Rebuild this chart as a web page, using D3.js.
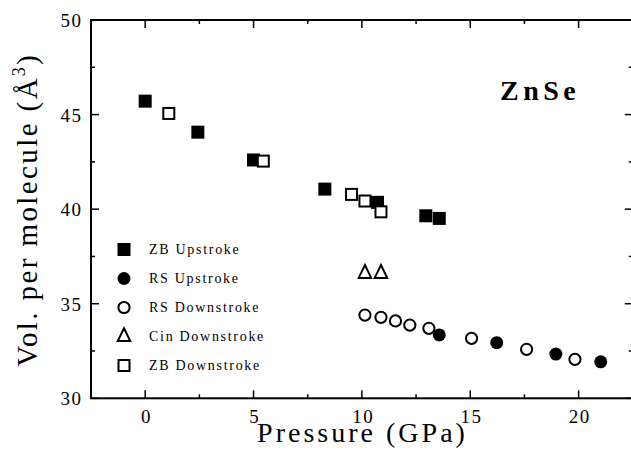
<!DOCTYPE html>
<html>
<head>
<meta charset="utf-8">
<script src="https://cdn.jsdelivr.net/npm/d3@7"></script>
<style>
  body { margin: 0; background: #fff; }
  svg { display: block; }
</style>
</head>
<body>
<svg id="chart" width="631" height="457"></svg>
<script>
// ---- Data ----
const zbUpP   = [0.0, 2.43, 5.0, 8.29, 10.72, 12.95, 13.57];
const zbUpV   = [45.71, 44.07, 42.6, 41.06, 40.36, 39.65, 39.51];
const zbDownP = [1.09, 5.45, 9.52, 10.14, 10.88];
const zbDownV = [45.06, 42.54, 40.78, 40.43, 39.86];
const cinDownP = [10.14, 10.88];
const cinDownV = [36.61, 36.61];
const rsDownP = [10.14, 10.88, 11.55, 12.21, 13.09, 15.06, 17.6, 19.83];
const rsDownV = [34.40, 34.28, 34.09, 33.87, 33.70, 33.17, 32.59, 32.06];
const rsUpP   = [13.57, 16.22, 18.95, 21.02];
const rsUpV   = [33.35, 32.94, 32.34, 31.93];
const xTicks = [0, 5, 10, 15, 20];
const yTicks = [30, 35, 40, 45, 50];
const legendLabels = ["ZB Upstroke", "RS Upstroke", "RS Downstroke", "Cin Downstroke", "ZB Downstroke"];
const legendKinds  = ["sqFill", "circFill", "circOpen", "triOpen", "sqOpen"];

const FONT = '"Liberation Serif"';

// per-glyph spacing via dx lists (instead of CSS letter-spacing)
function dxList(str, ls) {
  return Array.from(str).map((c, i) => (i === 0 ? 0 : ls)).join(" ");
}

const svg = d3.select("#chart");
const x = d3.scaleLinear().domain([-2.5, 22.5]).range([91, 632.8]);
const y = d3.scaleLinear().domain([30, 50]).range([398.3, 20]);
const L = x.range()[0], R = x.range()[1], T = y.range()[1], B = y.range()[0];

// Frame
svg.append("rect").attr("x", L).attr("y", T).attr("width", R - L).attr("height", B - T)
  .attr("fill", "none").attr("stroke", "#000").attr("stroke-width", 2);

// Ticks (inward, four sides)
const xMinor = d3.range(-2.5, 22.51, 2.5);
const yMinor = d3.range(30, 50.01, 2.5);
const tk = svg.append("g").attr("stroke", "#000").attr("stroke-width", 1.5);
xMinor.forEach(v => {
  const major = Math.abs(v % 5) < 1e-9;
  const len = major ? 8 : 4;
  tk.append("line").attr("x1", x(v)).attr("x2", x(v)).attr("y1", B).attr("y2", B - len);
  tk.append("line").attr("x1", x(v)).attr("x2", x(v)).attr("y1", T).attr("y2", T + len);
});
yMinor.forEach(v => {
  const major = Math.abs(v % 5) < 1e-9;
  const len = major ? 8 : 4;
  tk.append("line").attr("y1", y(v)).attr("y2", y(v)).attr("x1", L).attr("x2", L + len);
  tk.append("line").attr("y1", y(v)).attr("y2", y(v)).attr("x1", R).attr("x2", R - len);
});

// Tick labels via axis generators (lines hidden)
const fmt = d3.format("d");
const xAxis = svg.append("g").attr("transform", `translate(0,${B})`)
  .call(d3.axisBottom(x).tickValues(xTicks).tickSize(0).tickPadding(24).tickFormat(fmt));
const yAxis = svg.append("g").attr("transform", `translate(${L},0)`)
  .call(d3.axisLeft(y).tickValues(yTicks).tickSize(0).tickPadding(10).tickFormat(fmt));
[xAxis, yAxis].forEach(g => {
  g.attr("font-family", null).attr("font-size", null);
  g.select(".domain").remove();
  g.selectAll("text").style("font-family", FONT).style("font-size", "19px")
    .attr("fill", "#000").attr("dx", d => dxList(fmt(d), 1.5));
});
xAxis.selectAll("text").attr("dy", null).attr("y", 24.5);
yAxis.selectAll("text").attr("dy", null).attr("y", d => 6.5);

// Axis titles
const xtStr = "Pressure (GPa)";
svg.append("text").attr("x", 361).attr("y", 442).attr("text-anchor", "middle")
  .style("font-family", FONT).style("font-size", "28px").attr("dx", dxList(xtStr, 3)).text(xtStr);

const ytMain = "Vol. per molecule (Å";
const yt = svg.append("text").attr("transform", "translate(37,211) rotate(-90)")
  .style("font-family", FONT).attr("text-anchor", "middle").style("font-size", "29px");
yt.append("tspan").attr("dx", dxList(ytMain, 2.4)).text(ytMain);
yt.append("tspan").style("font-size", "18px").attr("dx", 2).attr("dy", -12).text("3");
yt.append("tspan").attr("dx", 2.4).attr("dy", 12).text(")");

// ZnSe label
const zn = "ZnSe";
svg.append("text").attr("x", 500).attr("y", 100).style("font-family", FONT).style("font-size", "28px")
  .style("font-weight", "bold").attr("dx", dxList(zn, 4.5)).text(zn);

// Marker drawing
function drawMarker(g, kind, cx, cy) {
  if (kind === "sqFill") {
    g.append("rect").attr("x", cx - 6.5).attr("y", cy - 6.5).attr("width", 13).attr("height", 13).attr("fill", "#000");
  } else if (kind === "sqOpen") {
    g.append("rect").attr("x", cx - 5.5).attr("y", cy - 5.5).attr("width", 11).attr("height", 11)
      .attr("fill", "#fff").attr("stroke", "#000").attr("stroke-width", 2);
  } else if (kind === "circFill") {
    g.append("circle").attr("cx", cx).attr("cy", cy).attr("r", 6.5).attr("fill", "#000");
  } else if (kind === "circOpen") {
    g.append("circle").attr("cx", cx).attr("cy", cy).attr("r", 5.6)
      .attr("fill", "#fff").attr("stroke", "#000").attr("stroke-width", 2);
  } else if (kind === "triOpen") {
    const s = 12.5, h = s * Math.sqrt(3) / 2;
    g.append("path").attr("d", `M${cx},${cy - h * 2 / 3 - 1}L${cx + s / 2},${cy + h / 3 + 1}L${cx - s / 2},${cy + h / 3 + 1}Z`)
      .attr("fill", "#fff").attr("stroke", "#000").attr("stroke-width", 2).attr("stroke-linejoin", "miter");
  }
}

const pts = svg.append("g");
function series(P, V, kind) { P.forEach((p, i) => drawMarker(pts, kind, x(p), y(V[i]))); }
series(zbUpP, zbUpV, "sqFill");
series(zbDownP, zbDownV, "sqOpen");
series(cinDownP, cinDownV, "triOpen");
series(rsDownP, rsDownV, "circOpen");
series(rsUpP, rsUpV, "circFill");

// Legend
const lg = svg.append("g");
legendLabels.forEach((lab, i) => {
  const yy = 249.5 + i * 29;
  drawMarker(lg, legendKinds[i], 124, yy);
  lg.append("text").attr("x", 149).attr("y", yy + 4.5).style("font-family", FONT).style("font-size", "14px")
    .attr("dx", dxList(lab, 1.7)).text(lab);
});
</script>
</body>
</html>
